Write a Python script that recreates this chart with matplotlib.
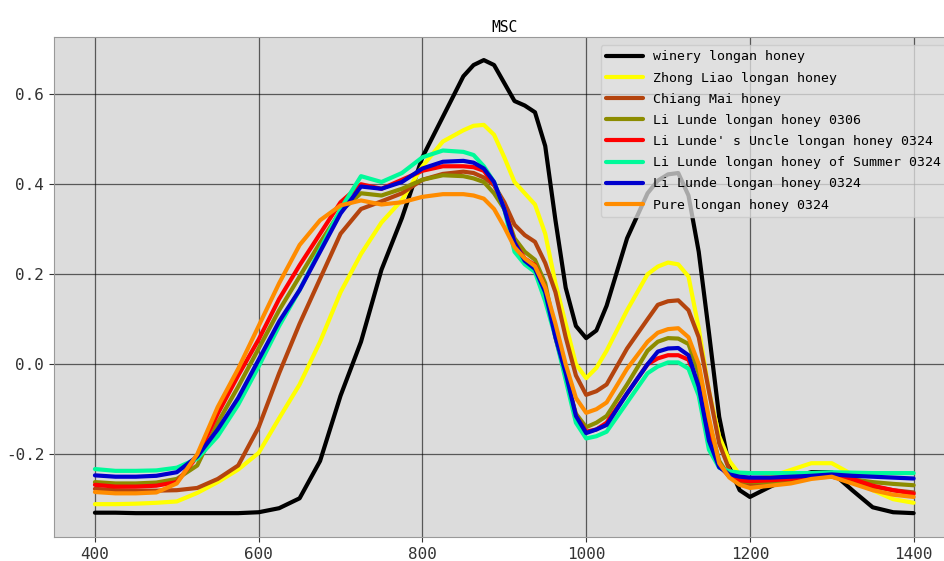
import numpy as np
import matplotlib
matplotlib.use("Agg")
import matplotlib.pyplot as plt

# wavelength grid (nm), denser where the spectra bend sharply
wavelength = [400, 425, 450, 475, 500, 525, 550, 575, 600, 625, 650, 675, 700, 725, 750, 775, 800, 825, 850,
              862.5, 875, 887.5, 900, 912.5, 925, 937.5, 950, 962.5, 975, 987.5, 1000, 1012.5, 1025,
              1050, 1075, 1087.5, 1100, 1112.5, 1125, 1137.5, 1150, 1162.5, 1175, 1187.5, 1200,
              1225, 1250, 1275, 1300, 1325, 1350, 1375, 1400]

winery = [-0.330, -0.330, -0.331, -0.331, -0.331, -0.331, -0.331, -0.331, -0.329, -0.320,
          -0.298, -0.215, -0.070, 0.050, 0.210, 0.325, 0.460, 0.550, 0.640,
          0.665, 0.676, 0.665, 0.625, 0.585, 0.575, 0.560, 0.485, 0.320, 0.170, 0.085, 0.058, 0.075, 0.130,
          0.280, 0.380, 0.408, 0.422, 0.425, 0.375, 0.250, 0.070, -0.117, -0.229, -0.280, -0.295,
          -0.272, -0.252, -0.240, -0.240, -0.280, -0.318, -0.329, -0.331]
zhong_liao = [-0.311, -0.311, -0.310, -0.308, -0.305, -0.286, -0.262, -0.234, -0.197, -0.120,
              -0.045, 0.050, 0.160, 0.245, 0.315, 0.365, 0.440, 0.495, 0.520,
              0.530, 0.532, 0.510, 0.460, 0.405, 0.380, 0.355, 0.290, 0.180, 0.090, 0.000, -0.031, -0.008, 0.030,
              0.120, 0.200, 0.217, 0.226, 0.222, 0.195, 0.080, -0.060, -0.160, -0.215, -0.245, -0.255,
              -0.250, -0.235, -0.220, -0.220, -0.245, -0.280, -0.300, -0.308]
chiang_mai = [-0.277, -0.280, -0.281, -0.281, -0.280, -0.275, -0.255, -0.225, -0.140, -0.020,
              0.090, 0.190, 0.290, 0.345, 0.362, 0.380, 0.410, 0.423, 0.428,
              0.425, 0.415, 0.398, 0.360, 0.310, 0.287, 0.272, 0.225, 0.160, 0.060, -0.025, -0.068, -0.060, -0.045,
              0.035, 0.100, 0.132, 0.140, 0.142, 0.120, 0.060, -0.060, -0.176, -0.235, -0.262, -0.270,
              -0.265, -0.255, -0.250, -0.250, -0.260, -0.272, -0.280, -0.285]
lilunde_0306 = [-0.262, -0.265, -0.265, -0.263, -0.255, -0.225, -0.130, -0.050, 0.035, 0.120,
                0.195, 0.270, 0.340, 0.380, 0.375, 0.390, 0.410, 0.420, 0.418,
                0.413, 0.405, 0.380, 0.345, 0.280, 0.250, 0.232, 0.180, 0.070, -0.030, -0.110, -0.140, -0.130, -0.115,
                -0.045, 0.030, 0.050, 0.058, 0.057, 0.045, -0.020, -0.130, -0.215, -0.250, -0.260, -0.262,
                -0.262, -0.258, -0.252, -0.250, -0.256, -0.262, -0.266, -0.269]
uncle_0324 = [-0.268, -0.272, -0.272, -0.270, -0.262, -0.205, -0.110, -0.025, 0.055, 0.145,
              0.220, 0.290, 0.360, 0.400, 0.390, 0.410, 0.430, 0.440, 0.440,
              0.438, 0.430, 0.400, 0.350, 0.270, 0.235, 0.220, 0.170, 0.060, -0.025, -0.115, -0.150, -0.145, -0.130,
              -0.065, 0.000, 0.013, 0.020, 0.020, 0.010, -0.050, -0.150, -0.225, -0.250, -0.258, -0.260,
              -0.258, -0.255, -0.250, -0.245, -0.255, -0.270, -0.280, -0.288]
summer_0324 = [-0.233, -0.237, -0.237, -0.236, -0.230, -0.210, -0.160, -0.090, -0.005, 0.085,
               0.165, 0.255, 0.345, 0.418, 0.405, 0.425, 0.460, 0.475, 0.472,
               0.465, 0.440, 0.405, 0.345, 0.250, 0.222, 0.205, 0.140, 0.060, -0.035, -0.130, -0.165, -0.160, -0.150,
               -0.085, -0.020, -0.005, 0.004, 0.004, -0.010, -0.070, -0.190, -0.230, -0.238, -0.241, -0.242,
               -0.242, -0.242, -0.242, -0.240, -0.241, -0.242, -0.242, -0.242]
lilunde_0324 = [-0.247, -0.250, -0.250, -0.248, -0.240, -0.205, -0.145, -0.075, 0.010, 0.095,
                0.165, 0.250, 0.335, 0.395, 0.390, 0.405, 0.435, 0.450, 0.452,
                0.448, 0.435, 0.405, 0.345, 0.270, 0.230, 0.212, 0.160, 0.060, -0.020, -0.115, -0.153, -0.145, -0.135,
                -0.065, 0.000, 0.028, 0.035, 0.036, 0.020, -0.050, -0.170, -0.229, -0.245, -0.250, -0.252,
                -0.252, -0.250, -0.248, -0.245, -0.248, -0.250, -0.252, -0.254]
pure_0324 = [-0.284, -0.287, -0.287, -0.285, -0.265, -0.200, -0.095, -0.010, 0.085, 0.180,
             0.265, 0.320, 0.353, 0.364, 0.355, 0.360, 0.372, 0.378, 0.378,
             0.375, 0.368, 0.345, 0.305, 0.260, 0.235, 0.218, 0.170, 0.090, 0.000, -0.075, -0.108, -0.100, -0.085,
             -0.010, 0.050, 0.070, 0.078, 0.080, 0.060, 0.000, -0.120, -0.220, -0.252, -0.268, -0.275,
             -0.270, -0.265, -0.255, -0.250, -0.265, -0.280, -0.290, -0.295]

labels = ['winery longan honey', 'Zhong Liao longan honey', 'Chiang Mai honey',
          'Li Lunde longan honey 0306', "Li Lunde' s Uncle longan honey 0324",
          'Li Lunde longan honey of Summer 0324', 'Li Lunde longan honey 0324',
          'Pure longan honey 0324']
series = [winery, zhong_liao, chiang_mai, lilunde_0306, uncle_0324,
          summer_0324, lilunde_0324, pure_0324]
colors = ['black', '#ffff00', '#b4440e', '#8c8c00', '#ff0000',
          '#00fa9a', '#0000cd', '#ff8c00']

plt.rcParams['font.family'] = ['DejaVu Sans Mono']
plt.rcParams['axes.unicode_minus'] = False

fig = plt.figure(figsize=(9.44, 5.61), dpi=100)
ax = fig.add_axes([0.0572, 0.0428, 0.954, 0.891])
ax.set_facecolor('#dcdcdc')

for y, c, lab in zip(series, colors, labels):
    ax.plot(wavelength, y, color=c, linewidth=3, label=lab,
            solid_joinstyle='round', solid_capstyle='round')

ax.set_xlim(350, 1450)
ax.set_ylim(-0.384, 0.727)
ax.set_xticks([400, 600, 800, 1000, 1200, 1400])
ax.set_yticks([-0.2, 0.0, 0.2, 0.4, 0.6])
ax.tick_params(labelsize=11.5, colors='#333333')
ax.grid(True, color='black', alpha=0.6, linewidth=0.9)
for s in ax.spines.values():
    s.set_color('#999999')

ax.set_title('MSC', fontsize=10.5, pad=4)
ax.legend(loc='upper right', fontsize=9.5, handlelength=2.8, labelspacing=0.62,
          facecolor='#e2e2e2', framealpha=0.75, edgecolor='#c8c8c8', borderaxespad=0.6)

fig.savefig('out.png', dpi=100)
